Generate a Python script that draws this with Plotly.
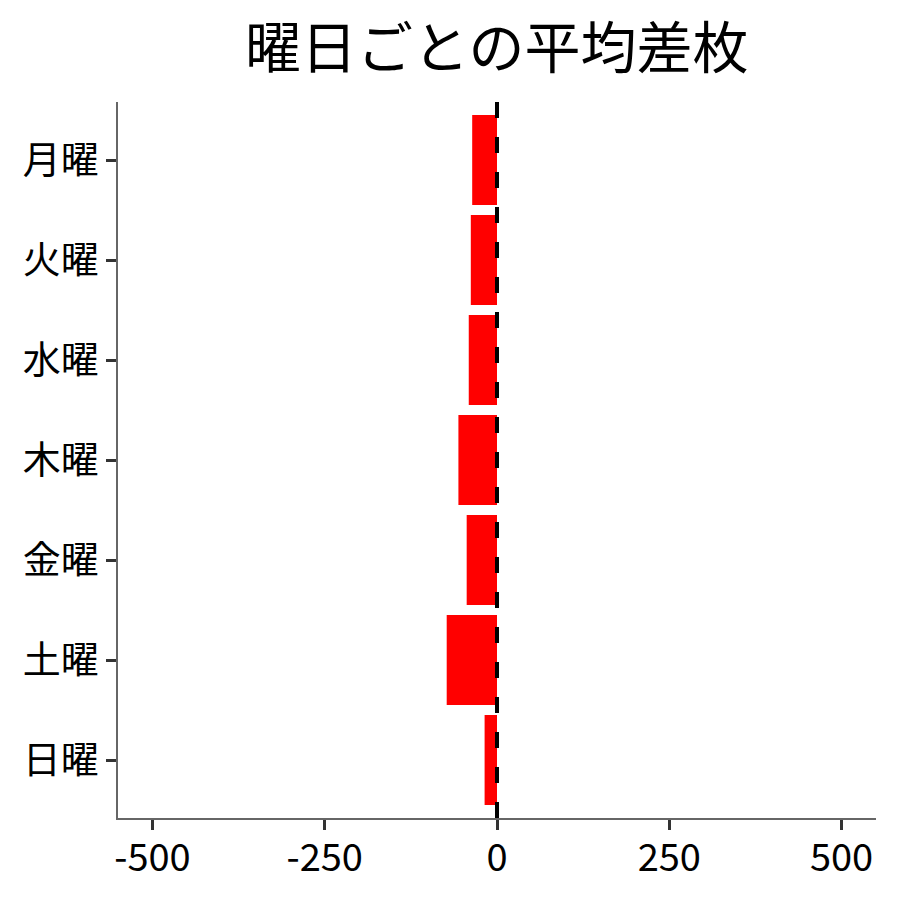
import plotly.graph_objects as go

# 曜日ごとの平均差枚
days = ['月曜', '火曜', '水曜', '木曜', '金曜', '土曜', '日曜']
avg_diff = [-36, -38, -41, -56, -44, -73, -18]
x_ticks = [-500, -250, 0, 250, 500]

font_family = 'Noto Sans CJK JP'

fig = go.Figure()

fig.add_trace(go.Bar(y=days, x=avg_diff, orientation='h',
                     marker=dict(color='#ff0000', line=dict(width=0)),
                     width=0.9))

# zero reference line
fig.add_vline(x=0, line=dict(color='black', width=4, dash='16px,19px'))

fig.update_layout(
    width=900, height=900,
    title=dict(text='曜日ごとの平均差枚', x=0.543, xanchor='center', y=0.955, yanchor='middle',
               font=dict(family=font_family, size=56, color='black')),
    font=dict(family=font_family, color='black'),
    margin=dict(l=110, r=32, t=94, b=90),
    plot_bgcolor='white', paper_bgcolor='white',
    showlegend=False,
    xaxis=dict(range=[-550, 550], tickvals=x_ticks, ticktext=[str(v) for v in x_ticks],
               showgrid=False, zeroline=False, showline=True, linecolor='#666666', linewidth=1.5,
               ticks='outside', ticklen=10, tickwidth=3, tickcolor='#333333',
               ticklabelstandoff=-4,
               tickfont=dict(size=38, color='black')),
    yaxis=dict(categoryorder='array', categoryarray=days[::-1], range=[-0.58, 6.58],
               showgrid=False, zeroline=False, showline=True, linecolor='#666666', linewidth=1.5,
               ticks='outside', ticklen=10, tickwidth=3, tickcolor='#333333',
               tickfont=dict(size=38, color='black')),
)

fig.write_html("out.html")
